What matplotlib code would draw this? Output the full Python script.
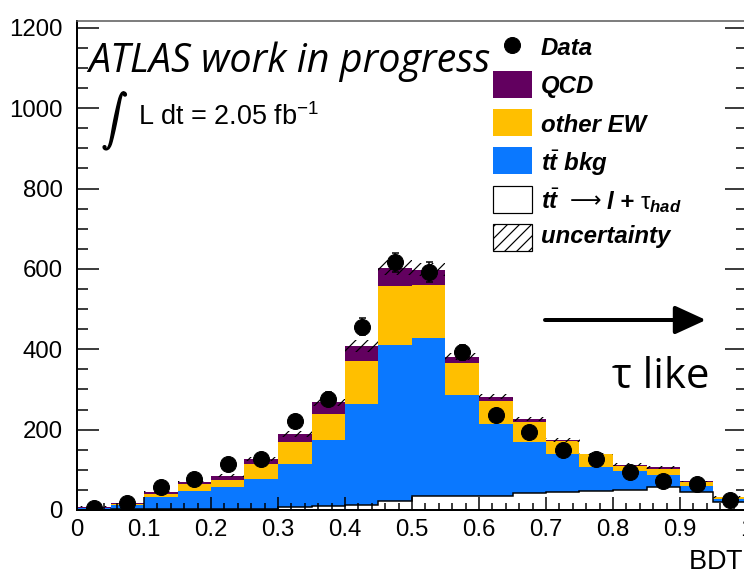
"""
BDT distribution: stacked backgrounds, signal, uncertainty band and data.
"""

import numpy as np
import matplotlib
matplotlib.use("Agg")
import matplotlib.pyplot as plt
import matplotlib.patheffects as pe
from matplotlib.patches import Rectangle
from matplotlib.ticker import MultipleLocator, FixedLocator, FixedFormatter

W, H, DPI = 744, 573, 72

plt.rcParams['font.family'] = ['Liberation Sans', 'DejaVu Sans']
plt.rcParams['mathtext.fontset'] = 'custom'
plt.rcParams['mathtext.rm'] = 'Liberation Sans'
plt.rcParams['mathtext.it'] = 'Liberation Sans:italic:bold'
plt.rcParams['mathtext.bf'] = 'Liberation Sans:bold'
plt.rcParams['mathtext.sf'] = 'Liberation Sans'
plt.rcParams['hatch.linewidth'] = 1.2

# Binning
bdt_edges = np.linspace(0.0, 1.0, 21)
bdt_centers = 0.5 * (bdt_edges[:-1] + bdt_edges[1:])

# Stack components (events per bin), bottom to top
tt_tau_had = [1, 2, 2, 2, 3, 3, 8, 10, 13, 23, 36, 36, 36, 42, 45, 47, 49, 56, 46, 19]
tt_bkg = [3, 10, 30, 45, 55, 74, 107, 164, 250, 388, 391, 249, 177, 128, 95, 61, 48, 31, 14, 8]
other_ew = [2, 3, 8, 17, 17, 38, 55, 66, 109, 147, 133, 80, 58, 48, 31, 31, 13, 15, 9, 5]
qcd = [2, 3, 5, 6, 10, 11, 19, 28, 36, 45, 38, 17, 11, 9, 3, 1, 3, 4, 2, 1]
bkg_unc = [1, 2, 3, 3, 4, 5, 8, 9, 15, 18, 16, 9, 6, 5, 4, 3, 3, 3, 2, 2]

# Data
data = [6, 17, 56, 76, 114, 128, 221, 277, 456, 616, 593, 392, 236, 193, 149, 126, 94, 71, 65, 25]
data_err = [2.4, 4.1, 7.5, 8.7, 10.7, 11.3, 14.9, 16.6, 21.4, 24.8, 24.4, 19.8, 15.4, 13.9, 12.2,
            11.2, 9.7, 8.4, 8.1, 5.0]

x_ticks = [0, 0.1, 0.2, 0.3, 0.4, 0.5, 0.6, 0.7, 0.8, 0.9, 1.0]
x_tick_labels = ['0', '0.1', '0.2', '0.3', '0.4', '0.5', '0.6', '0.7', '0.8', '0.9', '1']

col_qcd = '#62005f'
col_ew = '#ffbf00'
col_tt = '#0a78ff'

fig = plt.figure(figsize=(W / DPI, H / DPI), dpi=DPI)
fig.patch.set_facecolor('white')
ax = fig.add_axes([77 / W, (H - 510) / H, 670 / W, 489 / H])

# Stacked histogram
base = np.zeros(len(bdt_centers))
for vals, color in [(tt_tau_had, 'white'), (tt_bkg, col_tt), (other_ew, col_ew), (qcd, col_qcd)]:
    top = base + np.array(vals)
    ax.stairs(top, bdt_edges, baseline=base, fill=True, color=color, lw=0)
    base = top
total = base

# signal outline
ax.stairs(tt_tau_had, bdt_edges, color='black', lw=1.5)

# uncertainty band
unc = np.array(bkg_unc)
ax.bar(bdt_centers, 2 * unc, width=0.05, bottom=total - unc, fill=False,
       hatch='//', edgecolor='black', linewidth=0)

ax.errorbar(bdt_centers, data, yerr=data_err, fmt='o', color='black', ms=16,
            capsize=3.5, elinewidth=1.5, capthick=1.5, zorder=5)

ax.set_xlim(0, 1)
ax.set_ylim(0, 1217)
ax.xaxis.set_major_locator(FixedLocator(x_ticks))
ax.xaxis.set_major_formatter(FixedFormatter(x_tick_labels))
ax.xaxis.set_minor_locator(MultipleLocator(0.02))
ax.yaxis.set_major_locator(MultipleLocator(200))
ax.yaxis.set_minor_locator(MultipleLocator(50))
ax.tick_params(which='both', direction='in', right=True, top=False, width=1.5)
ax.tick_params(axis='x', which='major', length=13, pad=9, labelsize=24)
ax.tick_params(axis='x', which='minor', length=7)
ax.tick_params(axis='y', which='major', length=22, pad=14, labelsize=24)
ax.tick_params(axis='y', which='minor', length=11)
for side in ['left', 'bottom']:
    ax.spines[side].set_linewidth(2)
ax.spines['top'].set_linewidth(1.5)
ax.spines['top'].set_color('#555555')

# Overlay in pixel coordinates for labels and legend
ov = fig.add_axes([0, 0, 1, 1])
ov.set_xlim(0, W)
ov.set_ylim(H, 0)
ov.axis('off')

ov.text(88, 72, 'ATLAS work in progress', fontsize=39.5, family=['Open Sans', 'DejaVu Sans'],
        style='italic', va='baseline')
ov.text(115, 121, r'$\int$', fontsize=26, math_fontfamily='cm', ha='center', va='center',
        path_effects=[pe.withStroke(linewidth=1.6, foreground='black')])
ov.text(138, 125, r'L dt = 2.05 fb$^{-1}$', fontsize=27, va='baseline')

# legend
ov.plot([512], [45], 'o', color='black', ms=16)
leg_boxes = [(71, col_qcd, None, 'none'), (109, col_ew, None, 'none'), (147, col_tt, None, 'none'),
             (186, 'white', None, 'black'), (224, 'white', '//', 'black')]
for y0, fc, hatch, ec in leg_boxes:
    ov.add_patch(Rectangle((493, y0), 39, 27, facecolor=fc, edgecolor=ec, hatch=hatch, lw=1.2))

leg_font = dict(fontsize=24, fontweight='bold', style='italic', va='baseline')
ov.text(541, 55, 'Data', **leg_font)
ov.text(541, 93, 'QCD', **leg_font)
ov.text(541, 132, 'other EW', **leg_font)
ov.text(541, 171, r'$t\bar{t}$ bkg', **leg_font)
ov.text(541, 209, r'$t\bar{t}$', **leg_font)
ov.text(570, 207, '\u27f6', fontsize=22, family='DejaVu Sans', va='baseline')
ov.text(606, 209, r'$l$ + $\mathrm{\tau}_{had}$', **leg_font)
ov.text(541, 243, 'uncertainty', **leg_font)

ov.annotate('', xy=(706, 320), xytext=(545, 320),
            arrowprops=dict(arrowstyle='-|>,head_length=1.2,head_width=0.55', lw=4,
                            color='black', mutation_scale=22, shrinkA=0, shrinkB=0))
ov.text(612, 388, '\u03c4 like', fontsize=42, family=['Open Sans', 'DejaVu Sans'], va='baseline')

ov.text(688, 570, r'BDT$_{\mathrm{jet}}$', fontsize=27, va='baseline')

fig.savefig('out.png', dpi=DPI)
